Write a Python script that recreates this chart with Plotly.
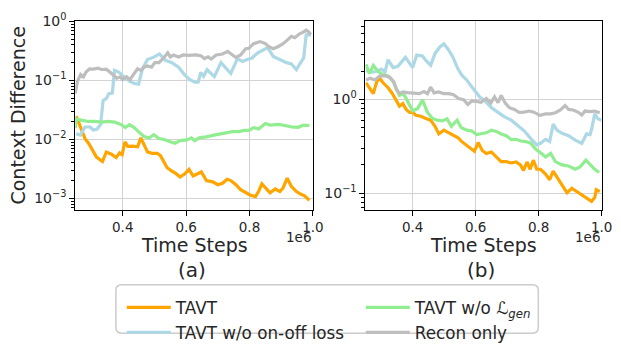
import plotly.graph_objects as go

# ---------------- data (time steps in units of 1e6) ----------------
# (a) left panel
a_tavt_x = [0.253, 0.266, 0.281, 0.292, 0.302, 0.317, 0.336, 0.348, 0.364, 0.379,
            0.390, 0.398, 0.407, 0.416, 0.431, 0.447, 0.457, 0.467, 0.478, 0.493,
            0.509, 0.519, 0.529, 0.540, 0.555, 0.565, 0.581, 0.596, 0.609, 0.622,
            0.648, 0.664, 0.684, 0.700, 0.715, 0.729, 0.741, 0.757, 0.772, 0.788,
            0.803, 0.819, 0.829, 0.839, 0.850, 0.865, 0.881, 0.896, 0.906, 0.919,
            0.932, 0.948, 0.963, 0.974, 0.989]
a_tavt_y = [0.0247, 0.0158, 0.0103, 0.0086, 0.0068, 0.0050, 0.0042, 0.0061, 0.0056, 0.0049,
            0.0059, 0.0055, 0.0091, 0.0076, 0.0077, 0.0075, 0.0106, 0.0081, 0.0061, 0.0058,
            0.0058, 0.0053, 0.0041, 0.0033, 0.0029, 0.0027, 0.0023, 0.0026, 0.0031, 0.0024,
            0.0028, 0.0020, 0.0019, 0.0017, 0.0018, 0.0021, 0.0020, 0.0017, 0.0014, 0.00124,
            0.00113, 0.00107, 0.00132, 0.00175, 0.0015, 0.00124, 0.00144, 0.0013, 0.0015, 0.0022,
            0.0016, 0.0013, 0.00117, 0.0011, 0.00092]

a_onoff_x = [0.253, 0.266, 0.281, 0.297, 0.307, 0.319, 0.330, 0.338, 0.348, 0.356,
             0.367, 0.374, 0.387, 0.400, 0.421, 0.436, 0.450, 0.462, 0.478, 0.498,
             0.516, 0.534, 0.555, 0.576, 0.596, 0.612, 0.627, 0.638, 0.646, 0.655,
             0.666, 0.679, 0.689, 0.710, 0.726, 0.741, 0.762, 0.778, 0.793, 0.808,
             0.824, 0.857, 0.875, 0.896, 0.917, 0.932, 0.948, 0.960, 0.971, 0.979,
             0.987, 0.994]
a_onoff_y = [0.0124, 0.0118, 0.0162, 0.0162, 0.0144, 0.0150, 0.0178, 0.0458, 0.049, 0.0597,
             0.061, 0.148, 0.138, 0.119, 0.097, 0.089, 0.086, 0.157, 0.226, 0.248,
             0.281, 0.220, 0.200, 0.167, 0.123, 0.103, 0.093, 0.093, 0.136, 0.117,
             0.152, 0.130, 0.116, 0.200, 0.157, 0.131, 0.234, 0.210, 0.226, 0.240,
             0.287, 0.360, 0.255, 0.226, 0.200, 0.190, 0.153, 0.195, 0.240, 0.590,
             0.600, 0.590]

a_gen_x = [0.250, 0.253, 0.271, 0.292, 0.312, 0.333, 0.353, 0.374, 0.395, 0.408,
           0.421, 0.436, 0.452, 0.467, 0.483, 0.498, 0.514, 0.529, 0.550, 0.565,
           0.581, 0.602, 0.617, 0.627, 0.643, 0.664, 0.684, 0.705, 0.726, 0.746,
           0.767, 0.782, 0.798, 0.813, 0.829, 0.850, 0.865, 0.891, 0.912, 0.932,
           0.953, 0.968, 0.989]
a_gen_y = [0.0155, 0.0222, 0.0210, 0.0201, 0.0201, 0.0196, 0.0201, 0.0196, 0.0178, 0.0158,
           0.0178, 0.0158, 0.0131, 0.0112, 0.0105, 0.0120, 0.0103, 0.0100, 0.0091, 0.0086,
           0.0095, 0.0098, 0.0106, 0.0095, 0.0107, 0.0110, 0.0117, 0.0124, 0.0131, 0.0135,
           0.0135, 0.0142, 0.0142, 0.0158, 0.0150, 0.0185, 0.0175, 0.0180, 0.0172, 0.0163,
           0.0160, 0.0172, 0.0172]

a_recon_x = [0.250, 0.257, 0.267, 0.276, 0.284, 0.295, 0.307, 0.322, 0.333, 0.348,
             0.359, 0.369, 0.381, 0.392, 0.400, 0.412, 0.423, 0.436, 0.447, 0.457,
             0.467, 0.478, 0.491, 0.501, 0.514, 0.529, 0.542, 0.550, 0.560, 0.576,
             0.591, 0.607, 0.622, 0.633, 0.648, 0.658, 0.669, 0.679, 0.695, 0.715,
             0.731, 0.746, 0.757, 0.772, 0.788, 0.798, 0.813, 0.834, 0.850, 0.860,
             0.875, 0.891, 0.906, 0.922, 0.932, 0.943, 0.958, 0.968, 0.979, 0.987,
             0.994]
a_recon_y = [0.060, 0.097, 0.126, 0.115, 0.139, 0.157, 0.155, 0.161, 0.153, 0.155,
             0.139, 0.123, 0.109, 0.115, 0.103, 0.115, 0.103, 0.131, 0.157, 0.148,
             0.167, 0.175, 0.167, 0.200, 0.200, 0.240, 0.294, 0.250, 0.270, 0.250,
             0.270, 0.265, 0.270, 0.270, 0.260, 0.234, 0.250, 0.230, 0.270, 0.280,
             0.310, 0.270, 0.245, 0.270, 0.344, 0.350, 0.420, 0.455, 0.420, 0.376,
             0.344, 0.376, 0.420, 0.495, 0.560, 0.530, 0.615, 0.650, 0.710, 0.660,
             0.600]

# (b) right panel
b_tavt_x = [0.252, 0.265, 0.275, 0.285, 0.294, 0.306, 0.322, 0.335, 0.348, 0.358,
            0.369, 0.379, 0.390, 0.400, 0.410, 0.426, 0.442, 0.457, 0.471, 0.483,
            0.499, 0.515, 0.530, 0.544, 0.556, 0.572, 0.585, 0.596, 0.608, 0.621,
            0.634, 0.650, 0.666, 0.681, 0.697, 0.713, 0.728, 0.742, 0.752, 0.763,
            0.773, 0.783, 0.794, 0.806, 0.822, 0.835, 0.846, 0.860, 0.874, 0.890,
            0.905, 0.921, 0.937, 0.950, 0.968, 0.978, 0.983, 0.994]
b_tavt_y = [1.50, 1.28, 1.15, 1.50, 1.70, 1.50, 1.33, 1.16, 0.95, 0.847,
            0.90, 0.785, 0.727, 0.73, 0.675, 0.66, 0.625, 0.60, 0.517, 0.428,
            0.469, 0.44, 0.412, 0.39, 0.354, 0.32, 0.293, 0.28, 0.346, 0.285,
            0.265, 0.275, 0.243, 0.217, 0.217, 0.21, 0.215, 0.20, 0.175, 0.215,
            0.18, 0.225, 0.18, 0.18, 0.16, 0.139, 0.172, 0.145, 0.123, 0.101,
            0.113, 0.104, 0.098, 0.09, 0.082, 0.09, 0.109, 0.104]

b_onoff_x = [0.252, 0.270, 0.285, 0.301, 0.312, 0.322, 0.338, 0.353, 0.377, 0.390,
             0.400, 0.413, 0.431, 0.442, 0.457, 0.471, 0.485, 0.499, 0.513, 0.527,
             0.544, 0.556, 0.572, 0.582, 0.598, 0.613, 0.629, 0.650, 0.671, 0.692,
             0.713, 0.733, 0.754, 0.775, 0.794, 0.806, 0.822, 0.835, 0.846, 0.858,
             0.874, 0.895, 0.916, 0.937, 0.952, 0.963, 0.968, 0.978, 0.988, 0.999]
b_onoff_y = [2.02, 1.95, 1.98, 2.10, 1.95, 2.64, 2.18, 2.25, 2.80, 2.44,
             2.18, 2.96, 2.90, 2.60, 2.30, 3.07, 3.57, 3.91, 3.40, 2.85,
             2.10, 1.81, 1.60, 1.44, 1.22, 1.06, 0.97, 0.815, 0.727, 0.65,
             0.60, 0.53, 0.462, 0.382, 0.328, 0.34, 0.375, 0.355, 0.545, 0.47,
             0.434, 0.41, 0.368, 0.34, 0.428, 0.42, 0.48, 0.70, 0.62, 0.60]

b_gen_x = [0.252, 0.263, 0.275, 0.291, 0.306, 0.322, 0.338, 0.348, 0.358, 0.371,
           0.384, 0.400, 0.416, 0.431, 0.447, 0.463, 0.478, 0.494, 0.509, 0.523,
           0.541, 0.554, 0.572, 0.588, 0.603, 0.619, 0.634, 0.650, 0.666, 0.681,
           0.697, 0.713, 0.728, 0.744, 0.759, 0.775, 0.791, 0.806, 0.822, 0.838,
           0.853, 0.874, 0.895, 0.916, 0.931, 0.950, 0.963, 0.978, 0.992]
b_gen_y = [2.36, 1.88, 2.30, 1.98, 1.83, 1.78, 1.55, 1.28, 1.10, 1.15,
           0.95, 0.755, 0.80, 0.985, 0.727, 0.625, 0.60, 0.59, 0.62, 0.517,
           0.60, 0.50, 0.469, 0.46, 0.421, 0.43, 0.44, 0.469, 0.455, 0.428,
           0.41, 0.373, 0.375, 0.36, 0.355, 0.341, 0.293, 0.27, 0.243, 0.266,
           0.217, 0.20, 0.195, 0.18, 0.19, 0.225, 0.20, 0.18, 0.166]

b_recon_x = [0.252, 0.265, 0.280, 0.296, 0.312, 0.327, 0.340, 0.348, 0.358, 0.369,
             0.384, 0.400, 0.421, 0.436, 0.447, 0.457, 0.468, 0.483, 0.499, 0.515,
             0.530, 0.546, 0.562, 0.575, 0.588, 0.603, 0.617, 0.634, 0.648, 0.660,
             0.671, 0.681, 0.694, 0.707, 0.723, 0.738, 0.754, 0.770, 0.785, 0.804,
             0.822, 0.838, 0.853, 0.869, 0.884, 0.895, 0.910, 0.926, 0.937, 0.947,
             0.963, 0.978, 0.994]
b_recon_y = [1.61, 1.68, 1.61, 1.78, 1.78, 1.72, 1.55, 1.28, 1.15, 1.20,
             1.18, 1.17, 1.15, 1.21, 1.15, 1.35, 1.17, 1.20, 1.15, 1.15,
             1.12, 1.02, 0.99, 0.88, 0.96, 0.95, 0.93, 1.02, 0.91, 1.06,
             0.92, 1.10, 0.91, 0.815, 0.78, 0.727, 0.73, 0.75, 0.73, 0.675,
             0.70, 0.70, 0.72, 0.77, 0.86, 0.78, 0.77, 0.727, 0.68, 0.75,
             0.74, 0.75, 0.72]

# tick labels
x_ticks = [0.4, 0.6, 0.8, 1.0]
x_ticklabels = ["0.4", "0.6", "0.8", "1.0"]
a_yticks = [1e-3, 1e-2, 1e-1, 1.0]
a_yticklabels = ["10<sup>\u22123</sup>", "10<sup>\u22122</sup>", "10<sup>\u22121</sup>", "10<sup>0</sup>"]
b_yticks = [0.1, 1.0]
b_yticklabels = ["10<sup>\u22121</sup>", "10<sup>0</sup>"]

# ---------------- styling ----------------
W, H = 621, 350
FONT = "DejaVu Sans"
TXT = "#262626"
GRID = "#d3d3d3"


def fx(p):
    return p / W


def fy(p):
    return 1 - p / H


series = [
    # name, colour, legend rank, (a) x/y, (b) x/y
    ("TAVT", "#FFA500", 1, a_tavt_x, a_tavt_y, b_tavt_x, b_tavt_y),
    ("TAVT w/o on-off loss", "#ADD8E6", 3, a_onoff_x, a_onoff_y, b_onoff_x, b_onoff_y),
    ("TAVT w/o <i>\u2112</i><sub><i>gen</i></sub>", "#90EE90", 2, a_gen_x, a_gen_y, b_gen_x, b_gen_y),
    ("Recon only", "#BEBEBE", 4, a_recon_x, a_recon_y, b_recon_x, b_recon_y),
]

fig = go.Figure()
for name, color, rank, ax, ay, bx, by in series:
    fig.add_trace(go.Scatter(x=ax, y=ay, mode="lines", name=name, legendrank=rank,
                             line=dict(color=color, width=3.2), xaxis="x", yaxis="y"))
    fig.add_trace(go.Scatter(x=bx, y=by, mode="lines", name=name, showlegend=False,
                             line=dict(color=color, width=3.2), xaxis="x2", yaxis="y2"))


def minor_log(lo_exp, hi_exp, lo, hi):
    vals = []
    for e in range(lo_exp, hi_exp + 1):
        for k in range(2, 10):
            v = k * 10.0 ** e
            if lo <= v <= hi:
                vals.append(v)
    return vals


common_x = dict(range=[0.25, 1.0], tickvals=x_ticks, ticktext=x_ticklabels,
                showgrid=True, gridcolor=GRID, gridwidth=1,
                showline=True, linecolor="black", linewidth=1, mirror=True,
                ticks="outside", ticklen=5, tickwidth=1, tickcolor="black",
                zeroline=False, tickfont=dict(family=FONT, size=13.5, color=TXT))
common_y = dict(type="log", showgrid=True, gridcolor=GRID, gridwidth=1,
                showline=True, linecolor="black", linewidth=1, mirror=True,
                ticks="outside", ticklen=5, tickwidth=1, tickcolor="black",
                zeroline=False, tickfont=dict(family=FONT, size=14, color=TXT))

y_top, y_bot = 12.3, 215.5

fig.update_layout(
    width=W, height=H,
    margin=dict(l=0, r=0, t=0, b=0),
    paper_bgcolor="white", plot_bgcolor="white",
    font=dict(family=FONT, color=TXT),
    xaxis=dict(domain=[fx(76.6), fx(318.5)], anchor="y", **common_x),
    xaxis2=dict(domain=[fx(372.0), fx(612.5)], anchor="y2", **common_x),
    yaxis=dict(domain=[fy(y_bot), fy(y_top)], anchor="x", range=[-3.2, 0.0],
               tickvals=a_yticks, ticktext=a_yticklabels,
               minor=dict(tickvals=minor_log(-4, -1, 10 ** -3.2, 1.0), ticks="outside",
                          ticklen=3, tickwidth=1, tickcolor="black", showgrid=False),
               **common_y),
    yaxis2=dict(domain=[fy(y_bot), fy(y_top)], anchor="x2", range=[-1.18, 0.83],
                tickvals=b_yticks, ticktext=b_yticklabels,
                minor=dict(tickvals=minor_log(-2, 0, 10 ** -1.18, 10 ** 0.83), ticks="outside",
                           ticklen=3, tickwidth=1, tickcolor="black", showgrid=False),
                **common_y),
    legend=dict(orientation="h", x=fx(124), y=fy(302), xanchor="left", yanchor="top",
                entrywidth=180, entrywidthmode="pixels", itemwidth=44,
                bgcolor="rgba(0,0,0,0)", borderwidth=0,
                font=dict(family=FONT, size=16.8, color=TXT), traceorder="normal"),
    showlegend=True,
)

ann = [
    dict(text="Context Difference", x=fx(18), y=fy(114), textangle=-90, size=19),
    dict(text="Time Steps", x=fx(197.5), y=fy(253), size=19),
    dict(text="Time Steps", x=fx(492), y=fy(253), size=19),
    dict(text="1e6", x=fx(318.5), y=fy(245), size=13.5, xanchor="right"),
    dict(text="1e6", x=fx(612.5), y=fy(245), size=13.5, xanchor="right"),
    dict(text="(a)", x=fx(195), y=fy(280), size=20),
    dict(text="(b)", x=fx(490), y=fy(280), size=20),
]
for a in ann:
    fig.add_annotation(text=a["text"], x=a["x"], y=a["y"], xref="paper", yref="paper",
                       showarrow=False, textangle=a.get("textangle", 0),
                       xanchor=a.get("xanchor", "center"), yanchor="middle",
                       font=dict(family=FONT, size=a["size"], color=TXT))

# rounded frame around the legend
x0, x1, y0, y1, r = 118, 548, 296, 348, 6
rx, ry = r / W, r / H
X0, X1, Y0, Y1 = fx(x0), fx(x1), fy(y0), fy(y1)
path = (f"M{X0 + rx},{Y0} L{X1 - rx},{Y0} Q{X1},{Y0} {X1},{Y0 - ry} "
        f"L{X1},{Y1 + ry} Q{X1},{Y1} {X1 - rx},{Y1} L{X0 + rx},{Y1} "
        f"Q{X0},{Y1} {X0},{Y1 + ry} L{X0},{Y0 - ry} Q{X0},{Y0} {X0 + rx},{Y0} Z")
fig.add_shape(type="path", path=path, xref="paper", yref="paper",
              line=dict(color="#cccccc", width=1.5), fillcolor="white", layer="below")

fig.write_html("out.html")
